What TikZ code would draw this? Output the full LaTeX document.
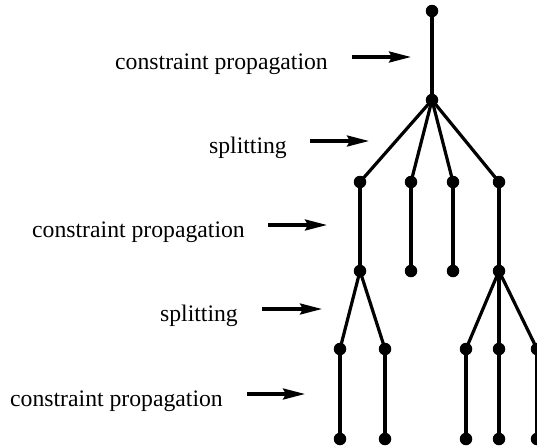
\documentclass[tikz,border=0pt]{standalone}
\usepackage{fontspec}
\setmainfont{Liberation Serif}
\usetikzlibrary{arrows.meta}
\begin{document}
\begin{tikzpicture}[x=1pt,y=-1pt,
  dot/.style={circle,fill=black,inner sep=0pt,minimum size=12.5pt},
  edge/.style={line width=3.2pt},
  lbl/.style={inner sep=0pt,anchor=base east,font=\fontsize{23.7}{28}\selectfont},
  pointer/.style={line width=3.2pt,-{Stealth[length=22pt,width=11pt,inset=3pt]}}]
\useasboundingbox (0,0) rectangle (537,447);
% tree nodes
\node[dot] (r)  at (432,11) {};
\node[dot] (a)  at (432,100) {};
\node[dot] (b1) at (360,182) {};
\node[dot] (b2) at (411,182) {};
\node[dot] (b3) at (453,182) {};
\node[dot] (b4) at (499,182) {};
\node[dot] (c1) at (360,271) {};
\node[dot] (c2) at (411,271) {};
\node[dot] (c3) at (453,271) {};
\node[dot] (c4) at (499,271) {};
\node[dot] (d1) at (340,349) {};
\node[dot] (d2) at (385,349) {};
\node[dot] (d3) at (466,349) {};
\node[dot] (d4) at (499,349) {};
\node[dot] (d5) at (537,349) {};
\node[dot] (e1) at (340,439) {};
\node[dot] (e2) at (385,439) {};
\node[dot] (e3) at (466,439) {};
\node[dot] (e4) at (499,439) {};
\node[dot] (e5) at (537,439) {};
% edges
\draw[edge] (r.center) -- (a.center);
\foreach \n in {b1,b2,b3,b4} \draw[edge] (a.center) -- (\n.center);
\draw[edge] (b1.center) -- (c1.center);
\draw[edge] (b2.center) -- (c2.center);
\draw[edge] (b3.center) -- (c3.center);
\draw[edge] (b4.center) -- (c4.center);
\draw[edge] (c1.center) -- (d1.center);
\draw[edge] (c1.center) -- (d2.center);
\draw[edge] (c4.center) -- (d3.center);
\draw[edge] (c4.center) -- (d4.center);
\draw[edge] (c4.center) -- (d5.center);
\draw[edge] (d1.center) -- (e1.center);
\draw[edge] (d2.center) -- (e2.center);
\draw[edge] (d3.center) -- (e3.center);
\draw[edge] (d4.center) -- (e4.center);
\draw[edge] (d5.center) -- (e5.center);
% labels
\node[lbl] (t1) at (328,69) {constraint propagation};
\node[lbl] (t2) at (287,153) {splitting};
\node[lbl] (t3) at (245,237) {constraint propagation};
\node[lbl] (t4) at (238,321) {splitting};
\node[lbl] (t5) at (223,406) {constraint propagation};
% arrows
\coordinate (p1s) at (352,57); \coordinate (p1e) at (411,57);
\coordinate (p2s) at (310,141); \coordinate (p2e) at (369,141);
\coordinate (p3s) at (268,225); \coordinate (p3e) at (327,225);
\coordinate (p4s) at (262,309); \coordinate (p4e) at (322,309);
\coordinate (p5s) at (247,394); \coordinate (p5e) at (305,394);
\draw[pointer] (p1s) -- (p1e);
\draw[pointer] (p2s) -- (p2e);
\draw[pointer] (p3s) -- (p3e);
\draw[pointer] (p4s) -- (p4e);
\draw[pointer] (p5s) -- (p5e);
\end{tikzpicture}
\end{document}
